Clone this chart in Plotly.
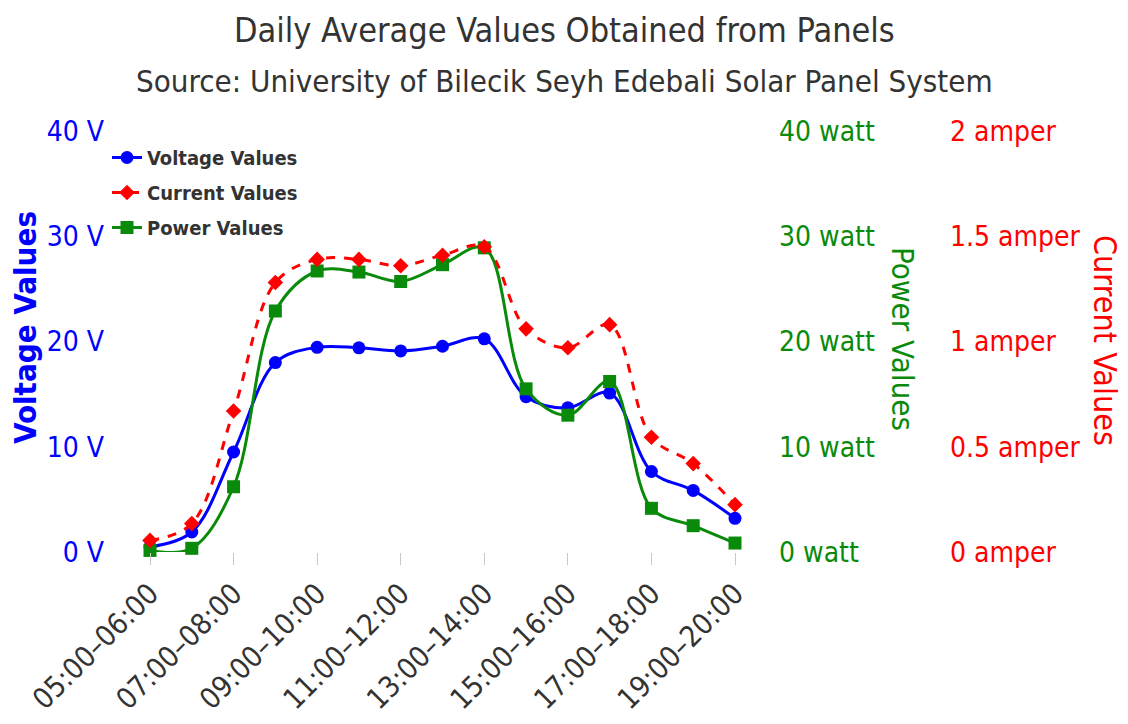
import plotly.graph_objects as go

# Hourly intervals of the day
hours = ["05:00–06:00", "06:00–07:00", "07:00–08:00", "08:00–09:00", "09:00–10:00",
         "10:00–11:00", "11:00–12:00", "12:00–13:00", "13:00–14:00", "14:00–15:00",
         "15:00–16:00", "16:00–17:00", "17:00–18:00", "18:00–19:00", "19:00–20:00"]

# Daily averages per interval
voltage_v = [0.5, 1.9, 9.5, 18.0, 19.45, 19.4, 19.1, 19.55, 20.25, 14.75, 13.7, 15.1, 7.65, 5.85, 3.2]
current_a = [0.055, 0.135, 0.67, 1.28, 1.39, 1.39, 1.36, 1.41, 1.45, 1.06, 0.97, 1.08, 0.545, 0.42, 0.225]
power_w = [0.15, 0.35, 6.2, 22.9, 26.7, 26.6, 25.7, 27.3, 28.9, 15.5, 13.0, 16.2, 4.15, 2.5, 0.85]

# Axis ticks
volt_ticks = [0, 10, 20, 30, 40]
volt_labels = ["0 V", "10 V", "20 V", "30 V", "40 V"]
watt_ticks = [0, 10, 20, 30, 40]
watt_labels = ["0 watt", "10 watt", "20 watt", "30 watt", "40 watt"]
amp_ticks = [0, 0.5, 1, 1.5, 2]
amp_labels = ["0 amper", "0.5 amper", "1 amper", "1.5 amper", "2 amper"]
shown_hours = hours[::2]

FONT = "DejaVu Sans Condensed, DejaVu Sans, sans-serif"
BLUE = "#0000FF"
RED = "#FF0000"
GREEN = "#0A8A0A"
W, H = 1128, 724

# plot area in pixels
left_px, right_px = 115, 770
top_px, bottom_px = 131, 552
first_px, last_px = 150, 735
step = (last_px - first_px) / (len(hours) - 1)
x_lo = -(first_px - left_px) / step
x_hi = (len(hours) - 1) + (right_px - last_px) / step

fig = go.Figure()

fig.add_trace(go.Scatter(
    x=hours, y=voltage_v, name="Voltage Values", yaxis="y",
    mode="lines+markers", legendgroup="v",
    line=dict(color=BLUE, width=3, shape="spline", smoothing=1.0),
    marker=dict(symbol="circle", size=13, color=BLUE),
    cliponaxis=False,
))
fig.add_trace(go.Scatter(
    x=hours, y=current_a, name="Current Values", yaxis="y3",
    mode="lines+markers", legendgroup="c",
    line=dict(color=RED, width=3, dash="dash", shape="spline", smoothing=1.0),
    marker=dict(symbol="diamond", size=12, color=RED),
    cliponaxis=False,
))
fig.add_trace(go.Scatter(
    x=hours, y=power_w, name="Power Values", yaxis="y2",
    mode="lines+markers", legendgroup="p",
    line=dict(color=GREEN, width=3, shape="spline", smoothing=1.0),
    marker=dict(symbol="square", size=13, color=GREEN),
    cliponaxis=False,
))

y_dom = [(H - bottom_px) / H, (H - top_px) / H]

fig.update_layout(
    width=W, height=H,
    margin=dict(l=0, r=0, t=0, b=0, autoexpand=False),
    paper_bgcolor="white", plot_bgcolor="white",
    font=dict(family=FONT, color="#333333"),
    showlegend=True,
    legend=dict(
        x=107 / W, y=(H - 138) / H, xanchor="left", yanchor="top",
        bgcolor="rgba(0,0,0,0)",
        font=dict(size=20, color="#333333", family=FONT, weight="bold"),
        tracegroupgap=6, itemwidth=30,
    ),
    xaxis=dict(
        domain=[left_px / W, right_px / W], automargin=False,
        type="category", range=[x_lo, x_hi],
        tickvals=shown_hours, ticktext=shown_hours,
        tickangle=-45, ticks="outside", ticklen=12, tickcolor="#C8C8C8",
        showgrid=False, showline=False, zeroline=False,
        tickfont=dict(size=29, color="#333333", family=FONT),
    ),
    yaxis=dict(
        domain=y_dom, range=[0, 40], automargin=False,
        tickvals=volt_ticks, ticktext=volt_labels,
        showgrid=False, zeroline=False, showline=False,
        tickfont=dict(size=28, color=BLUE, family=FONT),
        ticklabelstandoff=10,
    ),
    yaxis2=dict(
        domain=y_dom, range=[0, 40], automargin=False,
        tickvals=watt_ticks, ticktext=watt_labels,
        overlaying="y", side="right", anchor="free", position=778 / W,
        showgrid=False, zeroline=False, showline=False,
        tickfont=dict(size=28, color=GREEN, family=FONT),
    ),
    yaxis3=dict(
        domain=y_dom, range=[0, 2], automargin=False,
        tickvals=amp_ticks, ticktext=amp_labels,
        overlaying="y", side="right", anchor="free", position=949 / W,
        showgrid=False, zeroline=False, showline=False,
        tickfont=dict(size=28, color=RED, family=FONT),
    ),
    annotations=[
        dict(text="Daily Average Values Obtained from Panels", x=0.5, y=(H - 30) / H,
             xref="paper", yref="paper", showarrow=False, xanchor="center", yanchor="middle",
             font=dict(size=34, color="#333333", family=FONT)),
        dict(text="Source: University of Bilecik Seyh Edebali Solar Panel System", x=0.5,
             y=(H - 81) / H, xref="paper", yref="paper", showarrow=False,
             xanchor="center", yanchor="middle",
             font=dict(size=31, color="#333333", family=FONT)),
        dict(text="<b>Voltage Values</b>", x=25 / W, y=(H - 328) / H, xref="paper", yref="paper",
             showarrow=False, textangle=-90, xanchor="center", yanchor="middle",
             font=dict(size=31, color=BLUE, family=FONT)),
        dict(text="Power Values", x=903 / W, y=(H - 339) / H, xref="paper", yref="paper",
             showarrow=False, textangle=90, xanchor="center", yanchor="middle",
             font=dict(size=31, color=GREEN, family=FONT)),
        dict(text="Current Values", x=1105 / W, y=(H - 340) / H, xref="paper", yref="paper",
             showarrow=False, textangle=90, xanchor="center", yanchor="middle",
             font=dict(size=32, color=RED, family=FONT)),
    ],
)

fig.write_html("out.html")
